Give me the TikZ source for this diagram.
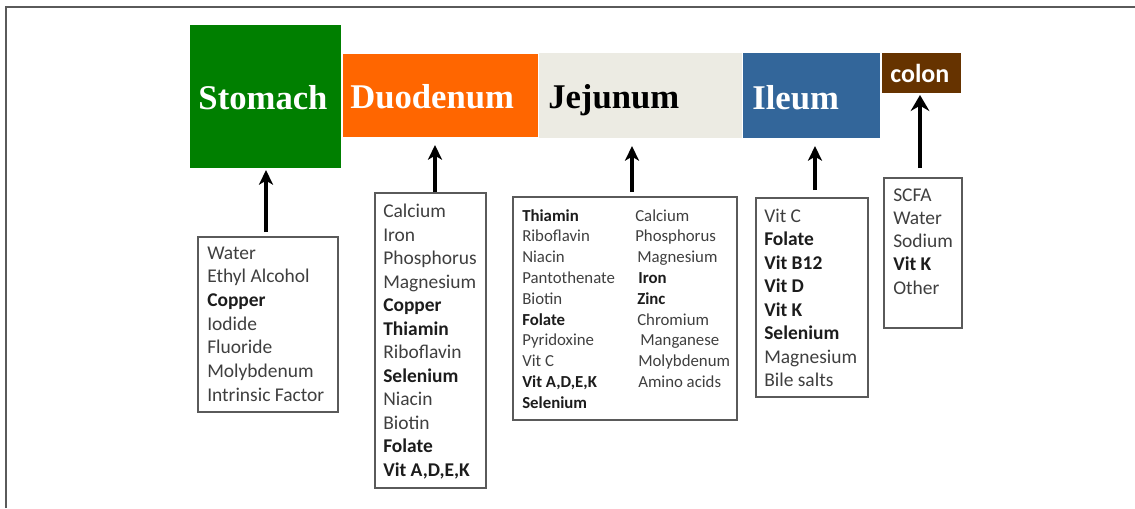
\documentclass[tikz,border=0pt]{standalone}
\usepackage{fontspec}
\setmainfont{Carlito}
\newfontfamily\timesfont{Liberation Serif}
\usetikzlibrary{arrows.meta,fit}
\definecolor{stomg}{HTML}{007F00}
\definecolor{duoo}{HTML}{FF6600}
\definecolor{jejb}{HTML}{ECEBE3}
\definecolor{ileb}{HTML}{33669A}
\definecolor{colb}{HTML}{663300}
\definecolor{framec}{HTML}{5A5A5A}
\definecolor{txtreg}{HTML}{3F3F3F}
\definecolor{txtbld}{HTML}{1C1C1C}
\newcommand\vitadek{Vit A,D,E,K}
\begin{document}
\begin{tikzpicture}[x=0.75pt,y=-0.75pt,
  seg/.style={inner sep=0pt, outer sep=0pt, draw=none},
  seglabel/.style={inner sep=0pt, font=\fontsize{26}{30}\timesfont\bfseries},
  listbox/.style={inner sep=0pt, outer sep=0pt, draw=framec, line width=0.9pt},
  reg/.style={inner sep=0pt, anchor=base west, text=txtreg},
  bld/.style={inner sep=0pt, anchor=base west, text=txtbld, execute at begin node=\bfseries},
  big/.style={font=\fontsize{14.6}{17.6}\selectfont},
  small/.style={font=\fontsize{12.6}{15.5}\selectfont},
  arr/.style={line width=3pt, -{Stealth[length=11pt,width=10.5pt,inset=3pt]}},
]
\useasboundingbox (0,0) rectangle (1135,508);
% outer frame (left and top edges)
\draw[framec, line width=1.5pt] (6,508) -- (6,6.5) -- (1135,6.5);

% gut segments
\node[seg, fill=stomg, fit={(190,25)(341,168)}] (stom) {};
\node[seg, fill=duoo,  fit={(343,54)(538,137)}] (duod) {};
\node[seg, fill=jejb,  fit={(539,53)(742,138)}] (jeju) {};
\node[seg, fill=ileb,  fit={(743,53)(880,138)}] (ileu) {};
\node[seg, fill=colb,  fit={(882,53)(961,93)}] (colo) {};

\node[seglabel, text=white, anchor=base] (stomlab) at (263,109) {Stomach};
\node[seglabel, text=white, anchor=base west] (duodlab) at (350,108) {Duodenum};
\node[seglabel, text=black, anchor=base west] (jejulab) at (548,108) {Jejunum};
\node[seglabel, text=white, anchor=base west] (ileulab) at (752,109) {Ileum};
\node[inner sep=0pt, anchor=base west, text=white, font=\fontsize{19.5}{22}\bfseries] (cololab) at (890,82) {colon};

% list boxes
\node[listbox, fit={(198,237)(338,412)}] (stlist) {};
\node[listbox, fit={(375,193)(486,488)}] (dulist) {};
\node[listbox, fit={(513,197)(737,420)}] (jelist) {};
\node[listbox, fit={(756,198)(868,397)}] (illist) {};
\node[listbox, fit={(884,178)(962,328)}] (colist) {};

% stomach list
\foreach \t/\w [count=\i] in {Water/reg, Ethyl Alcohol/reg, Copper/bld, Iodide/reg, Fluoride/reg, Molybdenum/reg, Intrinsic Factor/reg}
  \node[\w, big] (st\i) at (207, {259+(\i-1)*23.7}) {\t};
% duodenum list
\foreach \t/\w [count=\i] in {Calcium/reg, Iron/reg, Phosphorus/reg, Magnesium/reg, Copper/bld, Thiamin/bld, Riboflavin/reg, Selenium/bld, Niacin/reg, Biotin/reg, Folate/bld, \vitadek/bld}
  \node[\w, big] (du\i) at (383, {217.5+(\i-1)*23.5}) {\t};
% jejunum list, first column
\foreach \t/\w [count=\i] in {Thiamin/bld, Riboflavin/reg, Niacin/reg, Pantothenate/reg, Biotin/reg, Folate/bld, Pyridoxine/reg, Vit C/reg, \vitadek/bld, Selenium/bld}
  \node[\w, small] (jea\i) at (522, {221+(\i-1)*20.8}) {\t};
% jejunum list, second column
\foreach \t/\w/\xx [count=\i] in {Calcium/reg/635, Phosphorus/reg/635, Magnesium/reg/637, Iron/bld/638, Zinc/bld/637, Chromium/reg/637, Manganese/reg/640, Molybdenum/reg/638, Amino acids/reg/638}
  \node[\w, small] (jeb\i) at (\xx, {221+(\i-1)*20.8}) {\t};
% ileum list
\foreach \t/\w [count=\i] in {Vit C/reg, Folate/bld, Vit B12/bld, Vit D/bld, Vit K/bld, Selenium/bld, Magnesium/reg, Bile salts/reg}
  \node[\w, big] (il\i) at (764, {222+(\i-1)*23.5}) {\t};
% colon list
\foreach \t/\w [count=\i] in {SCFA/reg, Water/reg, Sodium/reg, Vit K/bld, Other/reg}
  \node[\w, big] (co\i) at (893, {201+(\i-1)*23.3}) {\t};

% arrows
\coordinate (ax1) at (266,0);
\coordinate (ax2) at (435,0);
\coordinate (ax3) at (632,0);
\coordinate (ax4) at (815,0);
\coordinate (ax5) at (920,0);
\draw[arr, shorten <=3.75pt, shorten >=1.5pt] (stlist.north -| ax1) -- (stom.south -| ax1);
\draw[arr, shorten <=0.75pt, shorten >=6pt] (dulist.north -| ax2) -- (duod.south -| ax2);
\draw[arr, shorten <=3.75pt, shorten >=6pt] (jelist.north -| ax3) -- (jeju.south -| ax3);
\draw[arr, shorten <=6pt, shorten >=6pt] (illist.north -| ax4) -- (ileu.south -| ax4);
\draw[line width=3.6pt, -{Stealth[length=12pt,width=14pt,inset=4pt]}, shorten <=7.5pt, shorten >=1.5pt] (colist.north -| ax5) -- (colo.south -| ax5);
\end{tikzpicture}
\end{document}
